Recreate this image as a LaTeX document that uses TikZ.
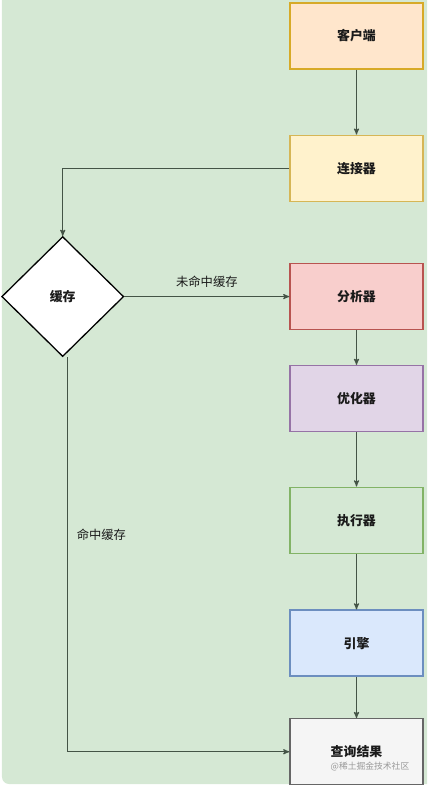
\documentclass[tikz,border=0pt]{standalone}
\usepackage{fontspec}
\setmainfont{Noto Sans CJK SC}
\usepackage{xcolor}
\usepackage{tikz}
\usetikzlibrary{shapes.geometric,arrows,positioning,calc}
\definecolor{pagegreen}{RGB}{213, 232, 212}
\definecolor{flowline}{RGB}{68, 84, 70}
\definecolor{inktext}{RGB}{26, 26, 26}
\definecolor{clientfill}{RGB}{255, 230, 204}
\definecolor{clientdraw}{RGB}{215, 170, 40}
\definecolor{connfill}{RGB}{255, 242, 204}
\definecolor{conndraw}{RGB}{214, 182, 86}
\definecolor{parsefill}{RGB}{248, 206, 204}
\definecolor{parsedraw}{RGB}{184, 84, 80}
\definecolor{optfill}{RGB}{225, 213, 231}
\definecolor{optdraw}{RGB}{150, 115, 166}
\definecolor{execfill}{RGB}{213, 232, 212}
\definecolor{execdraw}{RGB}{130, 179, 102}
\definecolor{enginefill}{RGB}{218, 232, 252}
\definecolor{enginedraw}{RGB}{108, 142, 191}
\definecolor{resultfill}{RGB}{245, 245, 245}
\definecolor{resultdraw}{RGB}{102, 102, 102}

\begin{document}
\begin{tikzpicture}[node distance=1.8cm, auto, >=stealth',
    stage/.style={rectangle, line width=1.1pt, minimum width=3.99cm, minimum height=1.98cm, inner sep=0pt, text=inktext, font=\bfseries\fontsize{11}{13}\selectfont},
    flow/.style={->, line width=0.9pt, flowline},
    flowtext/.style={text=inktext, font=\fontsize{10.5}{12}\selectfont}]
    \clip (0,0) rectangle (12.81,-23.58);
    \fill [pagegreen, rounded corners=6pt] (0.06,0.5) rectangle (13.5,-23.52);

    \node [stage, draw=clientdraw, fill=clientfill] (client) at (10.695,-1.08) {客户端};
    \node [stage, draw=conndraw, fill=connfill, below=1.95cm of client] (connector) {连接器};
    \node [stage, draw=parsedraw, fill=parsefill, below=1.83cm of connector] (analyzer) {分析器};
    \node [stage, draw=optdraw, fill=optfill, below=1.04cm of analyzer] (optimizer) {优化器};
    \node [stage, draw=execdraw, fill=execfill, below=1.63cm of optimizer] (executor) {执行器};
    \node [stage, draw=enginedraw, fill=enginefill, below=1.67cm of executor] (engine) {引擎};
    \node [stage, draw=resultdraw, fill=resultfill, below=1.24cm of engine] (result) {查询结果};
    \node [draw=black, diamond, fill=white, line width=1.1pt, minimum width=3.66cm, minimum height=3.6cm, inner sep=0pt, text=inktext, font=\bfseries\fontsize{11}{13}\selectfont, left=4.95cm of analyzer] (cache) {缓存};
    \node [text=black!40, font=\fontsize{7.5}{9}\selectfont] (watermark) at (11.1,-23.01) {@稀土掘金技术社区};

    \draw [flow] (client) -- (connector);
    \draw [flow] (connector.west) -| (cache.north);
    \draw [flow] (cache.east) -- node [above=4pt, flowtext] {未命中缓存} (analyzer.west);
    \draw [flow] (analyzer) -- (optimizer);
    \draw [flow] (optimizer) -- (executor);
    \draw [flow] (executor) -- (engine);
    \draw [flow] (engine) -- (result);
    \draw [flow] ($(cache.south)+(0.15,0)$) |- node [pos=0.225, right=4pt, flowtext] {命中缓存} (result.west);
\end{tikzpicture}
\end{document}
